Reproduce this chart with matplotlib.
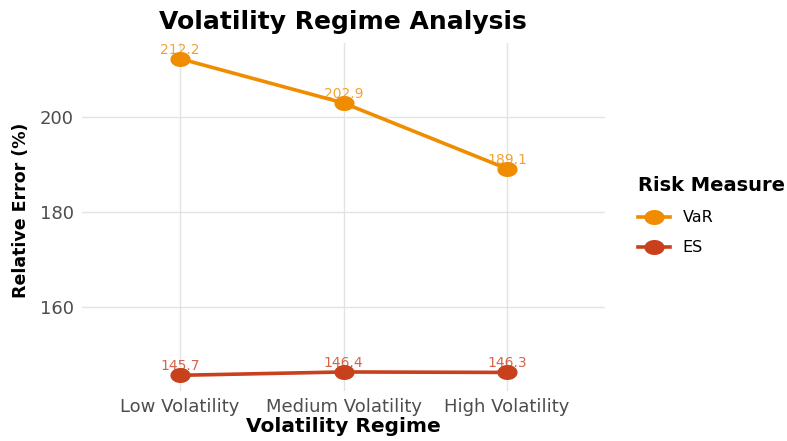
import matplotlib
matplotlib.use("Agg")
import numpy as np
import matplotlib.pyplot as plt
from matplotlib.lines import Line2D
from matplotlib.path import Path

plt.rcParams['font.family'] = ['DejaVu Sans']

regimes = ["Low Volatility", "Medium Volatility", "High Volatility"]
var_vals = [212.2, 202.9, 189.1]
es_vals = [145.7, 146.4, 146.3]
series_names = ["VaR", "ES"]
colors = ["#F08C00", "#C8401C"]
yticks = [160, 180, 200]

# horizontally stretched dot (reference image is wider than tall)
t = np.linspace(0, 2 * np.pi, 60)
ell = Path(np.column_stack([1.38 * np.cos(t), np.sin(t)]), closed=True)

fig = plt.figure(figsize=(7.87, 4.41), dpi=100)
ax = fig.add_axes([82 / 787, 1 - 391 / 441, 523 / 787, 348 / 441])

x = list(range(len(regimes)))
for vals, name, c in zip([var_vals, es_vals], series_names, colors):
    ax.plot(x, vals, color=c, lw=2.6, marker=ell, ms=13.5, zorder=3, label=name)
    for xi, v in zip(x, vals):
        ax.annotate(f"{v:.1f}", (xi, v), xytext=(0, 6.5), textcoords='offset points',
                    ha='center', va='center', fontsize=10, color=c, alpha=0.8, zorder=4)

ax.set_xlim(-0.6, 2.6)
ax.set_ylim(142.4, 215.5)
ax.set_xticks(x)
ax.set_xticklabels(regimes)
ax.set_yticks(yticks)
for s in ax.spines.values():
    s.set_visible(False)
ax.grid(True, color='#E3E3E3', lw=1.0)
ax.set_axisbelow(True)
ax.tick_params(length=0, labelsize=13, labelcolor='#4D4D4D', pad=6)
ax.tick_params(axis='x', pad=5)
ax.set_xlabel("Volatility Regime", fontsize=14.5, fontweight='bold', va='baseline')
ax.xaxis.set_label_coords(0.5, -0.118)
ax.set_ylabel("Relative Error (%)", fontsize=12.5, fontweight='bold', va='center')
ax.yaxis.set_label_coords(-0.1166, 0.52)
fig.text(343 / 787, 1 - 29 / 441, "Volatility Regime Analysis", ha='center', va='baseline',
         fontsize=18, fontweight='bold')

handles = [Line2D([0], [0], color=c, lw=2.6, marker=ell, ms=13.5) for c in colors]
leg = fig.legend(handles, series_names, title="Risk Measure", loc='upper left',
                 bbox_to_anchor=(638 / 787, 1 - 176 / 441), frameon=False, fontsize=11.5,
                 title_fontproperties={'weight': 'bold', 'size': 14},
                 handlelength=2.0, handletextpad=0.8, labelspacing=0.95,
                 borderpad=0, borderaxespad=0, alignment='left')

fig.savefig("out.png", dpi=100)
